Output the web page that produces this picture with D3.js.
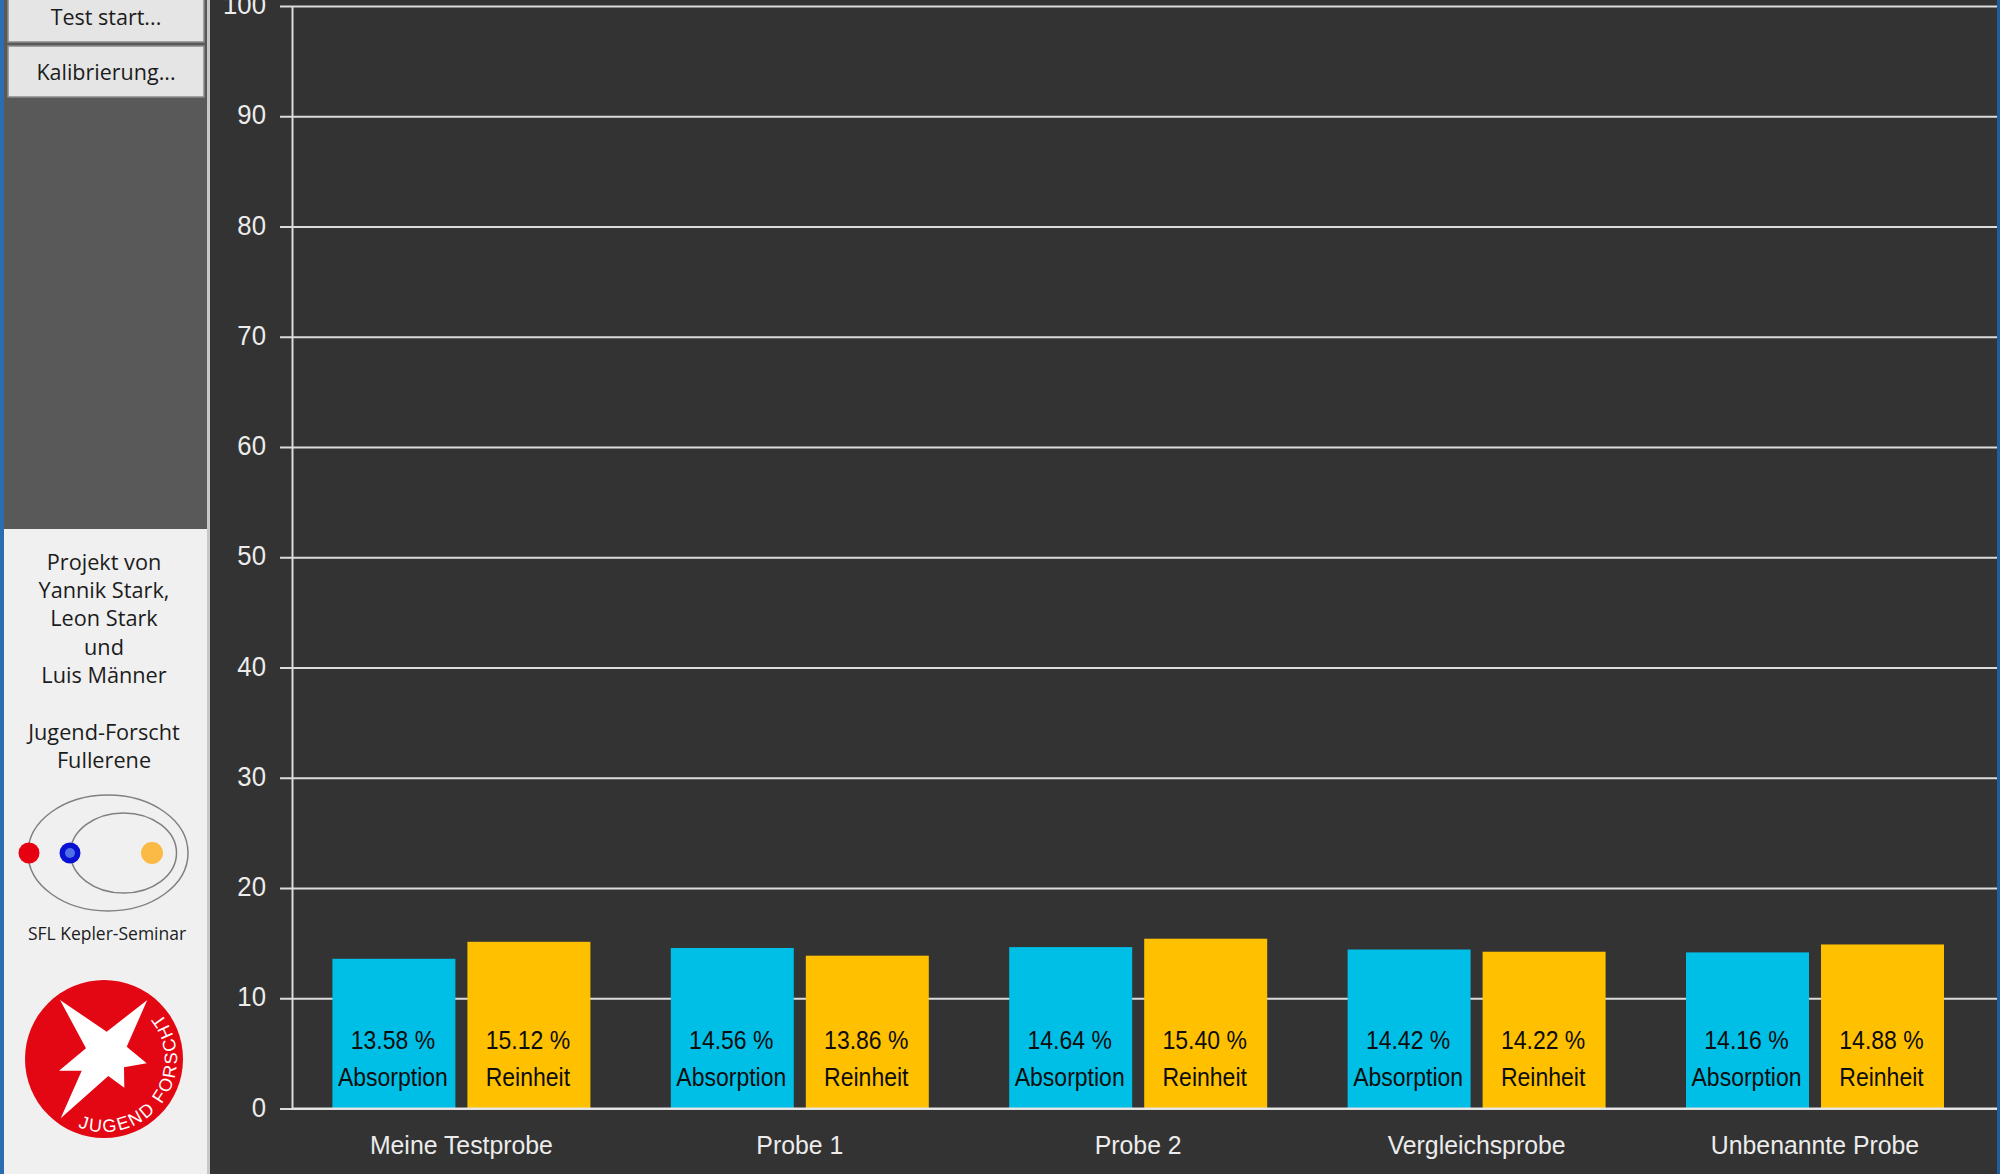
<!DOCTYPE html>
<html lang="de">
<head>
<meta charset="utf-8">
<title>Fullerene Messergebnisse</title>
<script src="https://cdn.jsdelivr.net/npm/d3@7/dist/d3.min.js"></script>
<style>
  html, body { margin: 0; padding: 0; background: #333; overflow: hidden; }
  svg { display: block; }
  .chart-text { font-family: "Liberation Sans", Arial, sans-serif; }
  .side-text { font-family: "Open Sans", "Noto Sans", sans-serif; fill: #1c1c1c; text-anchor: middle; }
</style>
</head>
<body>
<svg id="app" width="2000" height="1174"></svg>
<script>
// Measurement results per sample
const categories = ["Meine Testprobe", "Probe 1", "Probe 2", "Vergleichsprobe", "Unbenannte Probe"];
const seriesNames = ["Absorption", "Reinheit"];
const absorption = [13.58, 14.56, 14.64, 14.42, 14.16];
const reinheit = [15.12, 13.86, 15.40, 14.22, 14.88];
const yTicks = [0, 10, 20, 30, 40, 50, 60, 70, 80, 90, 100];
const seriesColors = ["#00bfe6", "#ffc000"];

// Sidebar wording
const buttonLabels = ["Test start...", "Kalibrierung..."];
const creditLines = ["Projekt von", "Yannik Stark,", "Leon Stark", "und", "Luis Männer", "", "Jugend-Forscht", "Fullerene"];

const svg = d3.select("#app");

/* ---------- window background ---------- */
svg.append("rect").attr("width", 2000).attr("height", 1174).attr("fill", "#333333");
svg.append("rect").attr("x", 1997).attr("width", 3).attr("height", 1174).attr("fill", "#1f5f9e");

/* ---------- chart ---------- */
const y = d3.scaleLinear().domain([0, 100]).range([1108.5, 6]);
const x0 = d3.scaleBand().domain(categories).range([292.2, 1984.2])
  .paddingInner(0.2376).paddingOuter(0.1188);
const x1 = d3.scaleBand().domain(seriesNames).range([0, x0.bandwidth()]).paddingInner(0.089);

const chart = svg.append("g").attr("class", "chart-text");
const axisX = 292;
const gridRight = 1997;
const squeeze = 0.92; // labels are set slightly condensed

// Horizontal grid lines running across the plot
const grid = chart.append("g").attr("transform", `translate(${axisX},0)`)
  .call(d3.axisLeft(y).tickValues(yTicks).tickSize(-(gridRight - axisX)).tickFormat(""));
grid.select(".domain").remove();
grid.selectAll("line").attr("stroke", "#dcdcdc").attr("stroke-width", 2);

// Grouped bars
const groups = chart.append("g").selectAll("g")
  .data(categories.map((name, i) => ({ name, values: [absorption[i], reinheit[i]] })))
  .join("g")
  .attr("transform", d => `translate(${x0(d.name)},0)`);

const bars = groups.selectAll("g")
  .data(d => d.values.map((value, i) => ({ value, series: seriesNames[i], color: seriesColors[i] })))
  .join("g");

bars.append("rect")
  .attr("x", d => x1(d.series))
  .attr("y", d => y(d.value))
  .attr("width", x1.bandwidth())
  .attr("height", d => y(0) - y(d.value))
  .attr("fill", d => d.color);

const barLabel = (sel, dy, text) => sel.append("text")
  .attr("transform", d => `translate(${x1(d.series) + x1.bandwidth() / 2 - 1},${y(0) + dy}) scale(${squeeze},1)`)
  .attr("text-anchor", "middle")
  .attr("font-size", 25)
  .attr("fill", "#0d0d0d")
  .text(text);

barLabel(bars, -60, d => d.value.toFixed(2) + " %");
barLabel(bars, -23, d => d.series);

// Zero line on top of the bars, then the value axis
chart.append("line")
  .attr("x1", axisX).attr("x2", gridRight)
  .attr("y1", y(0)).attr("y2", y(0))
  .attr("stroke", "#e6e6e6").attr("stroke-width", 2);

const yAxis = chart.append("g").attr("transform", `translate(${axisX},0)`)
  .call(d3.axisLeft(y).tickValues(yTicks).tickSizeInner(12).tickSizeOuter(0).tickPadding(14));
yAxis.select(".domain").attr("stroke", "#dcdcdc").attr("stroke-width", 2);
yAxis.selectAll("line").attr("stroke", "#dcdcdc").attr("stroke-width", 2);
yAxis.selectAll("text").attr("fill", "#ececec").attr("font-size", 28)
  .attr("font-family", "'Liberation Sans', Arial, sans-serif")
  .attr("x", -26 / squeeze).attr("dy", "0.27em")
  .attr("transform", `scale(${squeeze},1)`);

// Sample names below the bars
const xAxis = chart.append("g").attr("transform", `translate(0,${y(0)})`)
  .call(d3.axisBottom(x0).tickSize(0).tickPadding(27));
xAxis.select(".domain").remove();
xAxis.selectAll("text").attr("fill", "#ececec").attr("font-size", 26)
  .attr("font-family", "'Liberation Sans', Arial, sans-serif")
  .attr("transform", "scale(0.955,1)");

/* ---------- sidebar ---------- */
const side = svg.append("g");
side.append("rect").attr("width", 4).attr("height", 1174).attr("fill", "#2a6db0");
side.append("rect").attr("x", 4).attr("width", 203).attr("height", 1174).attr("fill", "#f0f0f0");
side.append("rect").attr("x", 207).attr("width", 3).attr("height", 1174).attr("fill", "#c8c8c8");
side.append("rect").attr("x", 4).attr("y", 0).attr("width", 203).attr("height", 529).attr("fill", "#5a5959");

// Buttons
[{ top: -10, bottom: 42 }, { top: 46, bottom: 97 }].forEach((b, i) => {
  side.append("rect").attr("x", 8).attr("y", b.top).attr("width", 196).attr("height", b.bottom - b.top)
    .attr("fill", "#e5e5e5").attr("stroke", "#8a8a8a").attr("stroke-width", 1.5);
  side.append("text").attr("class", "side-text").attr("x", 106).attr("y", i === 0 ? 25 : 80)
    .attr("font-size", 21.5).text(buttonLabels[i]);
});

// Project credits
side.append("g").selectAll("text").data(creditLines).join("text")
  .attr("class", "side-text")
  .attr("x", 104)
  .attr("y", (d, i) => 569.5 + i * 28.35)
  .attr("font-size", 21.7)
  .text(d => d);

// Seminar emblem
const emblem = side.append("g");
[[108, 853, 80, 58], [123.5, 853, 53, 40]].forEach(([cx, cy, rx, ry]) => {
  emblem.append("ellipse").attr("cx", cx).attr("cy", cy).attr("rx", rx).attr("ry", ry)
    .attr("fill", "none").attr("stroke", "#808080").attr("stroke-width", 1.5);
});
emblem.append("circle").attr("cx", 29).attr("cy", 853).attr("r", 10.5).attr("fill", "#e60012");
emblem.append("circle").attr("cx", 70).attr("cy", 853).attr("r", 10.5).attr("fill", "#0a12d2");
emblem.append("circle").attr("cx", 70).attr("cy", 853).attr("r", 5).attr("fill", "#4f6fe6");
emblem.append("circle").attr("cx", 152).attr("cy", 853).attr("r", 11).attr("fill", "#fbb945");
side.append("text").attr("class", "side-text").attr("x", 107).attr("y", 940)
  .attr("font-size", 17.5).attr("font-weight", 500).text("SFL Kepler-Seminar");

// Jugend forscht logo
const logo = side.append("g");
const logoCx = 104, logoCy = 1059, logoR = 79;
logo.append("circle").attr("cx", logoCx).attr("cy", logoCy).attr("r", logoR).attr("fill", "#e30613");
const star = [[60, 1000], [106.7, 1031.7], [147.3, 1000], [126.7, 1046.7], [146.7, 1063.3],
  [124, 1067.3], [124.3, 1087.7], [108.3, 1076], [60.7, 1118.3], [81.7, 1070.7], [59, 1070.7], [86, 1048.3]];
logo.append("polygon").attr("points", star.map(p => p.join(",")).join(" ")).attr("fill", "#ffffff");

const arcR = 73;
const polar = deg => [logoCx + arcR * Math.cos(deg * Math.PI / 180), logoCy + arcR * Math.sin(deg * Math.PI / 180)];
const [ax, ay] = polar(111), [bx, by] = polar(-40);
logo.append("defs").append("path").attr("id", "logoArc")
  .attr("d", `M${ax},${ay} A${arcR},${arcR} 0 0 0 ${bx},${by}`);
logo.append("text").attr("class", "chart-text").attr("font-size", 18).attr("letter-spacing", 1.9).attr("fill", "#ffffff")
  .append("textPath").attr("href", "#logoArc").text("JUGEND FORSCHT");
</script>
</body>
</html>
